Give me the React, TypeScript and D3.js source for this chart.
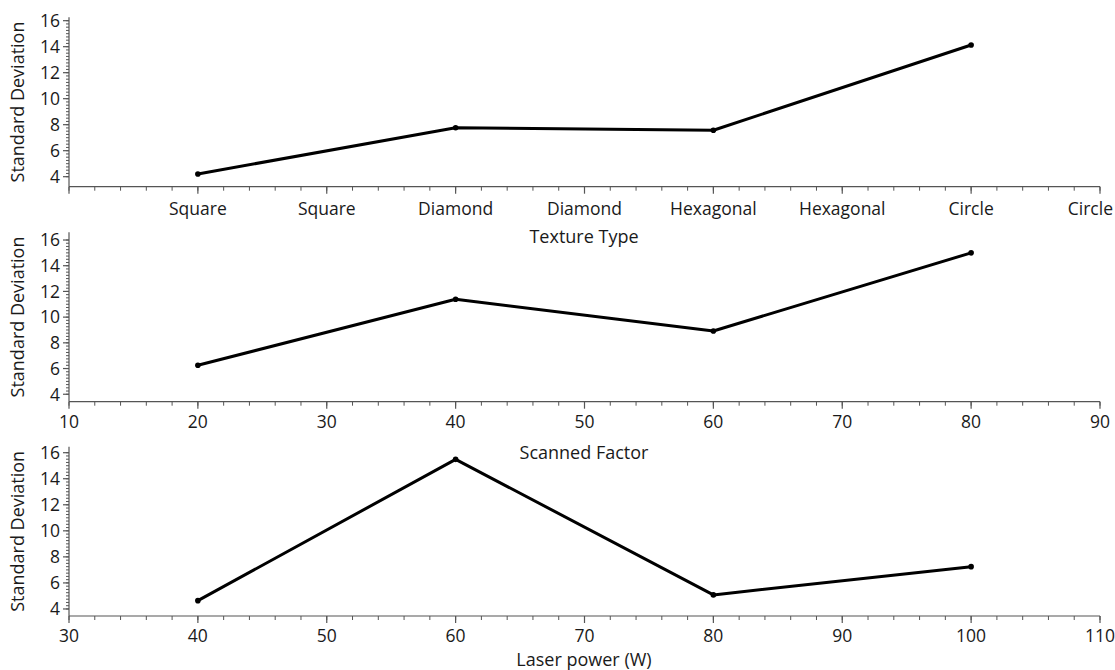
import React, { useRef, useEffect } from 'react';
import * as d3 from 'd3';

const textureTicks = [0, 1, 2, 3, 4, 5, 6, 7, 8];
const textureTickLabels = ['', 'Square', 'Square', 'Diamond', 'Diamond', 'Hexagonal', 'Hexagonal', 'Circle', 'Circle'];
const textureX = [1, 3, 5, 7];
const textureSD = [4.21, 7.77, 7.57, 14.13];

const scanX = [20, 40, 60, 80];
const scanSD = [6.26, 11.39, 8.92, 15.0];

const laserX = [40, 60, 80, 100];
const laserSD = [4.64, 15.49, 5.08, 7.25];

const yTicks = [4, 6, 8, 10, 12, 14, 16];

const W = 1115;
const H = 670;
const FONT = '"Open Sans", "Noto Sans", sans-serif';

const App = () => {
  const svgRef = useRef<SVGSVGElement>(null);

  useEffect(() => {
    const svg = d3.select(svgRef.current);
    svg.selectAll('*').remove();

    const panels = [
      { xs: textureX, ys: textureSD, xDomain: [0, 8], yDomain: [3.23, 16.26], top: 17.3, bottom: 186.7, title: 'Texture Type', titleY: 243, cat: true },
      { xs: scanX, ys: scanSD, xDomain: [10, 90], yDomain: [3.42, 16.6], top: 232.3, bottom: 401.7, title: 'Scanned Factor', titleY: 459, cat: false },
      { xs: laserX, ys: laserSD, xDomain: [30, 110], yDomain: [3.46, 16.46], top: 446.7, bottom: 616, title: 'Laser power (W)', titleY: 666, cat: false },
    ];

    const left = 69;
    const right = 1100;

    panels.forEach(p => {
      const x = d3.scaleLinear().domain(p.xDomain).range([left, right]);
      const y = d3.scaleLinear().domain(p.yDomain).range([p.bottom, p.top]);
      const g = svg.append('g');

      // x axis: majors + 4 minors between
      const step = (p.xDomain[1] - p.xDomain[0]) / 8;
      const minor = d3.range(p.xDomain[0], p.xDomain[1] + 1e-9, step / 5);
      const xAxis = g.append('g').attr('transform', `translate(0,${p.bottom})`);
      xAxis.append('line').attr('x1', left).attr('x2', right).attr('stroke', '#555').attr('stroke-width', 1.2);
      xAxis.selectAll('line.minor').data(minor).enter().append('line')
        .attr('class', 'minor')
        .attr('x1', d => x(d)).attr('x2', d => x(d))
        .attr('y1', 0).attr('y2', 4)
        .attr('stroke', '#555').attr('stroke-width', 1);
      const majors = p.cat ? textureTicks : d3.range(p.xDomain[0], p.xDomain[1] + 1e-9, step);
      xAxis.selectAll('line.major').data(majors).enter().append('line')
        .attr('class', 'major')
        .attr('x1', d => x(d)).attr('x2', d => x(d))
        .attr('y1', 0).attr('y2', 7)
        .attr('stroke', '#555').attr('stroke-width', 1.2);
      xAxis.selectAll('text').data(majors).enter().append('text')
        .attr('x', d => x(d)).attr('y', p.cat ? 28 : 26)
        .attr('text-anchor', (d, i) => (p.cat && i === majors.length - 1 ? 'end' : 'middle'))
        .attr('dx', (d, i) => (p.cat && i === majors.length - 1 ? 13 : 0))
        .attr('font-family', FONT).attr('font-size', 17.5).attr('fill', '#1a1a1a')
        .text((d, i) => p.cat ? textureTickLabels[i] : String(d));

      // y axis
      const yAxis = g.append('g').attr('transform', `translate(${left},0)`);
      yAxis.append('line').attr('y1', p.top).attr('y2', p.bottom).attr('stroke', '#555').attr('stroke-width', 1.2);
      const yMinor = d3.range(4, 16.01, 0.25);
      yAxis.selectAll('line.minor').data(yMinor).enter().append('line')
        .attr('class', 'minor')
        .attr('x1', -3).attr('x2', 0)
        .attr('y1', d => y(d)).attr('y2', d => y(d))
        .attr('stroke', '#555').attr('stroke-width', 1);
      yAxis.selectAll('line.major').data(yTicks).enter().append('line')
        .attr('class', 'major')
        .attr('x1', -6).attr('x2', 0)
        .attr('y1', d => y(d)).attr('y2', d => y(d))
        .attr('stroke', '#555').attr('stroke-width', 1.2);
      yAxis.selectAll('text').data(yTicks).enter().append('text')
        .attr('x', -9).attr('y', d => y(d)).attr('dy', '0.36em')
        .attr('text-anchor', 'end')
        .attr('font-family', FONT).attr('font-size', 17.5).attr('fill', '#1a1a1a')
        .text(d => String(d));

      g.append('text')
        .attr('transform', `translate(24,${(p.top + p.bottom) / 2}) rotate(-90)`)
        .attr('text-anchor', 'middle')
        .attr('font-family', FONT).attr('font-size', 18).attr('fill', '#1a1a1a')
        .text('Standard Deviation');

      g.append('text')
        .attr('x', 584).attr('y', p.titleY)
        .attr('text-anchor', 'middle')
        .attr('font-family', FONT).attr('font-size', 18).attr('fill', '#1a1a1a')
        .text(p.title);

      const pts = p.xs.map((v, i) => [x(v), y(p.ys[i])] as [number, number]);
      g.append('path')
        .attr('d', d3.line()(pts))
        .attr('fill', 'none').attr('stroke', '#000').attr('stroke-width', 3)
        .attr('stroke-linejoin', 'round');
      g.selectAll('circle').data(pts).enter().append('circle')
        .attr('cx', d => d[0]).attr('cy', d => d[1]).attr('r', 2.8).attr('fill', '#000');
    });
  }, []);

  return (
    <div style={{ position: 'absolute', left: 0, top: 0 }}>
      <svg ref={svgRef} width={W} height={H} style={{ display: 'block', background: '#fff' }}></svg>
    </div>
  );
};

export default App;
